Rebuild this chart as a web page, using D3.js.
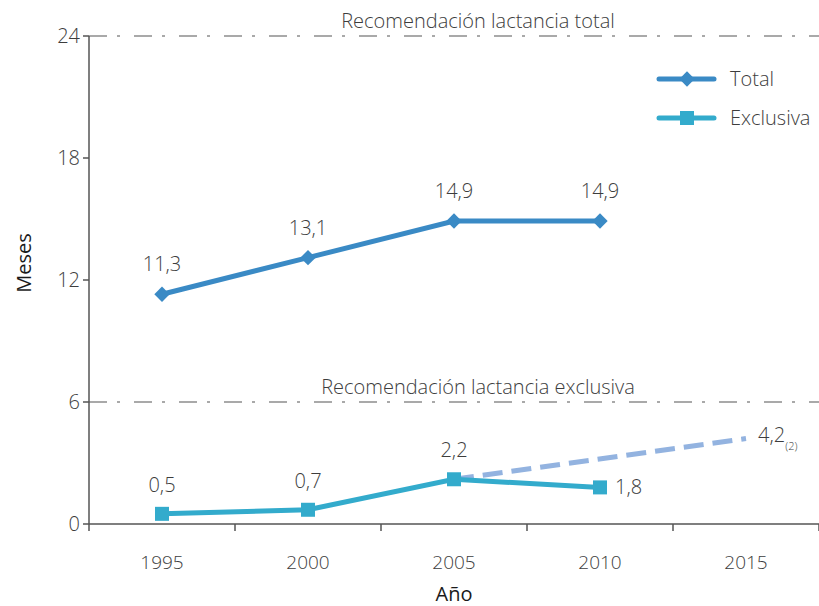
<!DOCTYPE html>
<html>
<head>
<meta charset="utf-8">
<script src="https://cdn.jsdelivr.net/npm/d3@7"></script>
<style>
  body { margin: 0; background: #fff; }
  svg text { font-family: "Open Sans", sans-serif; font-weight: 300; fill: #3d3d3d; }
</style>
</head>
<body>
<div id="chart"></div>
<script>
// data
var years = ["1995", "2000", "2005", "2010", "2015"];
var totalValues = [11.3, 13.1, 14.9, 14.9];
var exclusiveValues = [0.5, 0.7, 2.2, 1.8];
var projectionYears = ["2005", "2015"];
var projectionValues = [2.2, 4.2];
var yTicks = [0, 6, 12, 18, 24];
var recommendations = [
  {value: 24, label: "Recomendación lactancia total"},
  {value: 6, label: "Recomendación lactancia exclusiva"}
];

var width = 819, height = 606;
var margin = {top: 36, right: 0, bottom: 82, left: 89};

var svg = d3.select("#chart").append("svg")
    .attr("width", width)
    .attr("height", height);

var x = d3.scaleBand()
    .domain(years)
    .range([margin.left, width - margin.right]);
var y = d3.scaleLinear()
    .domain([0, 24])
    .range([height - margin.bottom, margin.top]);
var cx = function(yr) { return x(yr) + x.bandwidth() / 2; };

var axisColor = "#555";

// recommendation lines
svg.selectAll(".rec")
    .data(recommendations)
    .enter().append("line")
    .attr("x1", margin.left)
    .attr("x2", width)
    .attr("y1", function(d) { return y(d.value); })
    .attr("y2", function(d) { return y(d.value); })
    .attr("stroke", axisColor)
    .attr("stroke-width", 1.2)
    .attr("stroke-dasharray", "18,10,3,14");

svg.selectAll(".recLabel")
    .data(recommendations)
    .enter().append("text")
    .attr("x", 478)
    .attr("y", function(d) { return y(d.value) - 8; })
    .attr("text-anchor", "middle")
    .style("font-size", "20px")
    .text(function(d) { return d.label; });

// y axis
svg.append("line")
    .attr("x1", margin.left).attr("x2", margin.left)
    .attr("y1", y(24)).attr("y2", y(0))
    .attr("stroke", axisColor).attr("stroke-width", 1.5);
svg.selectAll(".ytick")
    .data(yTicks)
    .enter().append("line")
    .attr("x1", margin.left - 6).attr("x2", margin.left)
    .attr("y1", function(d) { return y(d); })
    .attr("y2", function(d) { return y(d); })
    .attr("stroke", axisColor).attr("stroke-width", 1.5);
svg.selectAll(".ylabel")
    .data(yTicks)
    .enter().append("text")
    .attr("x", margin.left - 9)
    .attr("y", function(d) { return y(d) + 7; })
    .attr("text-anchor", "end")
    .style("font-size", "20px")
    .text(function(d) { return d; });

// x axis
var xBounds = years.map(function(d) { return x(d); }).concat([width - margin.right]);
svg.append("line")
    .attr("x1", margin.left).attr("x2", width)
    .attr("y1", y(0)).attr("y2", y(0))
    .attr("stroke", axisColor).attr("stroke-width", 1.5);
svg.selectAll(".xtick")
    .data(xBounds)
    .enter().append("line")
    .attr("x1", function(d) { return d; })
    .attr("x2", function(d) { return d; })
    .attr("y1", y(0)).attr("y2", y(0) + 7)
    .attr("stroke", axisColor).attr("stroke-width", 1.5);
svg.selectAll(".xlabel")
    .data(years)
    .enter().append("text")
    .attr("x", function(d) { return cx(d); })
    .attr("y", 569)
    .attr("text-anchor", "middle")
    .style("font-size", "19px")
    .text(function(d) { return d; });

// axis titles
svg.append("text")
    .attr("x", 454).attr("y", 601)
    .attr("text-anchor", "middle")
    .style("font-size", "20px")
    .style("font-weight", 400)
    .style("fill", "#1a1a1a")
    .text("Año");
svg.append("text")
    .attr("transform", "translate(31,263) rotate(-90)")
    .attr("text-anchor", "middle")
    .style("font-size", "20px")
    .style("font-weight", 400)
    .style("fill", "#1a1a1a")
    .text("Meses");

var totalColor = "#3a8ac5";
var exclColor = "#33abcc";
var projColor = "#93b3e0";

var line = d3.line()
    .x(function(d) { return cx(d[0]); })
    .y(function(d) { return y(d[1]); });

// projection (dashed)
svg.append("path")
    .datum(d3.zip(projectionYears, projectionValues))
    .attr("d", line)
    .attr("fill", "none")
    .attr("stroke", projColor)
    .attr("stroke-width", 5)
    .attr("stroke-dasharray", "20,9");

// total series
var totalData = d3.zip(years.slice(0, totalValues.length), totalValues);
svg.append("path")
    .datum(totalData)
    .attr("d", line)
    .attr("fill", "none")
    .attr("stroke", totalColor)
    .attr("stroke-width", 5);
var diamond = d3.symbol().type(d3.symbolDiamond2).size(150);
svg.selectAll(".tmark")
    .data(totalData)
    .enter().append("path")
    .attr("d", diamond)
    .attr("transform", function(d) { return "translate(" + cx(d[0]) + "," + y(d[1]) + ")"; })
    .attr("fill", totalColor);
svg.selectAll(".tlab")
    .data(totalData)
    .enter().append("text")
    .attr("x", function(d) { return cx(d[0]); })
    .attr("y", function(d) { return y(d[1]) - 23; })
    .attr("text-anchor", "middle")
    .style("font-size", "20px")
    .text(function(d) { return String(d[1]).replace(".", ","); });

// exclusive series
var exclData = d3.zip(years.slice(0, exclusiveValues.length), exclusiveValues);
svg.append("path")
    .datum(exclData)
    .attr("d", line)
    .attr("fill", "none")
    .attr("stroke", exclColor)
    .attr("stroke-width", 5);
svg.selectAll(".emark")
    .data(exclData)
    .enter().append("rect")
    .attr("x", function(d) { return cx(d[0]) - 7; })
    .attr("y", function(d) { return y(d[1]) - 7; })
    .attr("width", 14).attr("height", 14)
    .attr("fill", exclColor);
svg.selectAll(".elab")
    .data(exclData)
    .enter().append("text")
    .attr("x", function(d, i) { return i === 3 ? cx(d[0]) + 15 : cx(d[0]); })
    .attr("y", function(d, i) { return i === 3 ? y(d[1]) + 7 : y(d[1]) - 22; })
    .attr("text-anchor", function(d, i) { return i === 3 ? "start" : "middle"; })
    .style("font-size", "20px")
    .text(function(d) { return String(d[1]).replace(".", ","); });

// projection label
var projLabel = svg.append("text")
    .attr("x", cx(projectionYears[1]) + 12)
    .attr("y", y(projectionValues[1]) + 3)
    .style("font-size", "20px")
    .text(String(projectionValues[1]).replace(".", ","));
projLabel.append("tspan")
    .attr("dy", 8)
    .style("font-size", "11px")
    .text("(2)");

// legend
var legend = [
  {label: "Total", color: totalColor, shape: "diamond"},
  {label: "Exclusiva", color: exclColor, shape: "square"}
];
var lg = svg.selectAll(".legend")
    .data(legend)
    .enter().append("g")
    .attr("transform", function(d, i) { return "translate(659," + (79 + i * 39) + ")"; });
lg.append("line")
    .attr("x1", 0).attr("x2", 55)
    .attr("stroke", function(d) { return d.color; })
    .attr("stroke-width", 5)
    .attr("stroke-linecap", "round");
lg.append("path")
    .attr("d", function(d) {
      return d.shape === "diamond" ? diamond() : d3.symbol().type(d3.symbolSquare).size(196)();
    })
    .attr("transform", "translate(28,0)")
    .attr("fill", function(d) { return d.color; });
lg.append("text")
    .attr("x", 71).attr("y", 7)
    .style("font-size", "20px")
    .text(function(d) { return d.label; });
</script>
</body>
</html>
